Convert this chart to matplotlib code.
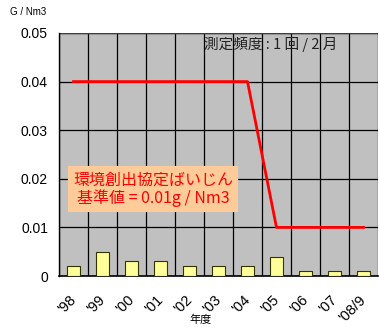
import matplotlib
matplotlib.use("Agg")
import matplotlib.pyplot as plt
import matplotlib.transforms as mtransforms
import numpy as np

years = ["'98", "'99", "'00", "'01", "'02", "'03", "'04", "'05", "'06", "'07", "'08/9"]
dust = [0.002, 0.005, 0.003, 0.003, 0.002, 0.002, 0.002, 0.004, 0.001, 0.001, 0.001]
standard = [0.04, 0.04, 0.04, 0.04, 0.04, 0.04, 0.04, 0.01, 0.01, 0.01, 0.01]
yticks = [0, 0.01, 0.02, 0.03, 0.04, 0.05]
ytick_labels = ["0", "0.01", "0.02", "0.03", "0.04", "0.05"]

plt.rcParams['font.family'] = ['Liberation Sans', 'Noto Sans CJK JP', 'DejaVu Sans']
jp = ['Noto Sans CJK JP', 'DejaVu Sans']

fig = plt.figure(figsize=(3.79, 3.31), dpi=100)
fig.patch.set_facecolor('white')
ax = fig.add_axes([59/379, 1-276/331, 319/379, 243/331])
ax.set_facecolor('#C0C0C0')

x = np.arange(len(years))
ax.bar(x, dust, width=0.42, color='#FFFF99', edgecolor='#333300', linewidth=0.8, zorder=3)
ax.plot(x, standard, color='#FF0000', linewidth=2, zorder=4)

ax.set_xlim(-0.5, len(years) - 0.5)
ax.set_ylim(0, 0.05)
ax.set_yticks(yticks)
ax.set_yticklabels(ytick_labels, fontsize=10)
ax.set_xticks(x)
ax.set_xticklabels(years, rotation=45, ha='right', va='center', fontsize=10.5,
                   rotation_mode='anchor')
offset = mtransforms.ScaledTranslation(-4.5/100, 0, fig.dpi_scale_trans)
for lab in ax.get_xticklabels():
    lab.set_transform(lab.get_transform() + offset)
ax.set_xticks(np.arange(len(years) + 1) - 0.5, minor=True)
ax.tick_params(axis='x', which='both', length=0, pad=15.5)
ax.tick_params(axis='y', length=0, pad=8)
ax.grid(True, axis='y', which='major', color='black', linewidth=0.9, zorder=1)
ax.grid(True, axis='x', which='minor', color='black', linewidth=0.9, zorder=1)
ax.set_axisbelow(True)
for s in ['top', 'right']:
    ax.spines[s].set_visible(False)
ax.spines['left'].set_color('black')
ax.spines['bottom'].set_color('black')
ax.spines['bottom'].set_linewidth(1.2)
ax.spines['left'].set_linewidth(1)
ax.axhline(0.05, color='#404040', linewidth=1, zorder=1)

fig.text(10/379, 1-12/331, "G / Nm3", fontsize=7, va='center', ha='left')
fig.text(204/379, 1-44/331, "測定頻度 : 1 回 / 2 月", fontsize=10.5, va='center',
         ha='left', family=jp, color='#222222')
fig.text(201/379, 1-320/331, "年度", fontsize=8, va='center', ha='center', family=jp)

fig.text(153/379, 1-189/331, "環境創出協定ばいじん\n基準値 = 0.01g / Nm3", fontsize=11.5,
         color='#FF0000', ha='center', va='center', family=jp, linespacing=1.05,
         bbox=dict(boxstyle='square,pad=0.3', facecolor='#FFCC99', edgecolor='none'))

fig.savefig("out.png", dpi=100)
